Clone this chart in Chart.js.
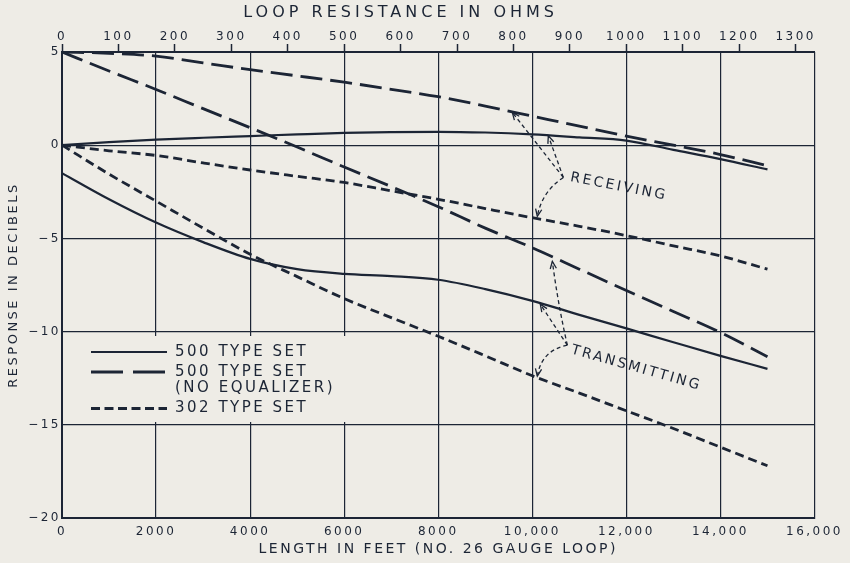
<!DOCTYPE html>
<html lang="en">
<head>
<meta charset="UTF-8">
<title>Response vs Loop Length</title>
<script src="https://cdn.jsdelivr.net/npm/chart.js@4.4.0/dist/chart.umd.min.js"></script>
<style>
html,body{margin:0;padding:0;background:#eeece6}
#wrap{width:850px;height:563px}
</style>
</head>
<body>
<div id="wrap"><canvas id="chart" width="850" height="563"></canvas></div>
<script>
/* ---------- data ---------- */
const lengthFt  = [0,1000,2000,3000,4000,5000,6000,7000,8000,9000,10000,11000,12000,13000,14000,15000];
const rx500     = [0,0.17,0.30,0.40,0.49,0.58,0.66,0.70,0.72,0.68,0.58,0.42,0.25,-0.25,-0.75,-1.30];
const rx500NoEq = [5,4.93,4.78,4.42,4.05,3.72,3.38,3.00,2.60,2.10,1.56,1.02,0.49,0.00,-0.50,-1.10];
const tx500NoEq = [5,3.98,2.99,1.96,0.94,-0.10,-1.17,-2.22,-3.30,-4.45,-5.50,-6.65,-7.80,-8.92,-10.05,-11.35];
const tx500     = [-1.5,-2.9,-4.15,-5.2,-6.1,-6.65,-6.9,-7.02,-7.22,-7.72,-8.35,-9.1,-9.83,-10.57,-11.3,-12.0];
const rx302     = [0,-0.30,-0.55,-0.95,-1.33,-1.67,-2.0,-2.45,-2.9,-3.4,-3.89,-4.35,-4.85,-5.4,-5.94,-6.65];
const tx302     = [0,-1.55,-3.0,-4.45,-5.85,-7.05,-8.23,-9.25,-10.25,-11.3,-12.37,-13.3,-14.25,-15.2,-16.2,-17.2];

const ftMax = 16000, ftStep = 2000;
const dbMin = -20, dbMax = 5, dbStep = 5;
const ohmsPerFoot = 1300 / 15600;   // no. 26 gauge loop
const ohmTicks = [0,100,200,300,400,500,600,700,800,900,1000,1100,1200,1300];

/* annotation anchors, in data units */
const recvFrom = {x:10660, y:-1.73};
const recvTips = [{x:9574,y:1.76,bend:0},{x:10340,y:0.5,bend:0},{x:10106,y:-3.82,bend:-10}];
const txFrom   = {x:10745, y:-10.73};
const txTips   = [{x:10426,y:-6.23,bend:2},{x:10170,y:-8.53,bend:0},{x:10106,y:-12.39,bend:-15}];
const recvLabel = {x:11840, y:-2.23, text:'RECEIVING', angle:11};
const txLabel   = {x:12213, y:-11.96, text:'TRANSMITTING', angle:15.8};

/* ---------- look ---------- */
const paper = '#eeece6', ink = '#1c2535';
const FONT = "'DejaVu Sans', sans-serif";
const longDash = [22,8], shortDash = [9,5];
Chart.defaults.font.family = FONT;
Chart.defaults.color = ink;

const ds = (label, ys, dash, w) => ({
  label, data: lengthFt.map((x,i)=>({x, y: ys[i]})),
  borderColor: ink, borderWidth: w, borderDash: dash,
  pointRadius: 0, fill: false, cubicInterpolationMode: 'monotone'
});

const datasets = [
  ds('500 TYPE SET', rx500, [], 2.2),
  ds('500 TYPE SET (NO EQUALIZER)', rx500NoEq, longDash, 2.8),
  ds('500 TYPE SET (NO EQUALIZER)', tx500NoEq, longDash, 2.8),
  ds('500 TYPE SET', tx500, [], 2.2),
  ds('302 TYPE SET', rx302, shortDash, 2.8),
  ds('302 TYPE SET', tx302, shortDash, 2.8)
];

/* legend rows: which dataset, sample dash, text lines */
const legendRows = [
  {ds:0, dash:[], lines:['500 TYPE SET']},
  {ds:1, dash:[32,10], lines:['500 TYPE SET','(NO EQUALIZER)']},
  {ds:4, dash:[9,4.5], lines:['302 TYPE SET']}
];

function arrow(ctx, x0, y0, x1, y1, bend){
  const dx = x1-x0, dy = y1-y0, len = Math.hypot(dx,dy);
  const cx = (x0+x1)/2 + bend*dy/len, cy = (y0+y1)/2 - bend*dx/len;
  ctx.setLineDash([4,3]);
  ctx.beginPath(); ctx.moveTo(x0,y0); ctx.quadraticCurveTo(cx,cy,x1,y1); ctx.stroke();
  const a = Math.atan2(y1-cy, x1-cx);
  ctx.setLineDash([]);
  ctx.beginPath();
  ctx.moveTo(x1-8*Math.cos(a-0.4), y1-8*Math.sin(a-0.4));
  ctx.lineTo(x1,y1);
  ctx.lineTo(x1-8*Math.cos(a+0.4), y1-8*Math.sin(a+0.4));
  ctx.stroke();
}

const notes = {
  id: 'notes',
  beforeUpdate(chart){ chart.ctx.letterSpacing = '2.5px'; },
  beforeDraw(chart){
    const c = chart.ctx;
    c.save(); c.fillStyle = paper; c.fillRect(0,0,chart.width,chart.height); c.restore();
    c.letterSpacing = '2.5px';
  },
  beforeDatasetsDraw(chart){
    const {ctx, chartArea:a} = chart;
    ctx.save(); ctx.fillStyle = paper;
    ctx.fillRect(a.left+2, 336, 294, 86);
    ctx.restore();
  },
  afterDatasetsDraw(chart){
    const {ctx, chartArea:a, scales:{x, y}} = chart;
    ctx.save();
    ctx.strokeStyle = ink; ctx.fillStyle = ink;
    ctx.letterSpacing = '2.5px';

    /* legend */
    ctx.font = '15px ' + FONT;
    ctx.textBaseline = 'middle'; ctx.textAlign = 'left';
    let rowY = 352;
    legendRows.forEach(r => {
      const d = datasets[r.ds];
      ctx.lineWidth = d.borderWidth; ctx.setLineDash(r.dash);
      ctx.beginPath(); ctx.moveTo(a.left+29, rowY); ctx.lineTo(a.left+105, rowY); ctx.stroke();
      r.lines.forEach((t,i) => ctx.fillText(t, a.left+113, rowY + i*16.5));
      rowY += 20 + (r.lines.length-1)*16.5;
    });

    /* arrows + labels */
    ctx.lineWidth = 1.3;
    [[recvFrom, recvTips],[txFrom, txTips]].forEach(([f, tips]) => {
      const x0 = x.getPixelForValue(f.x), y0 = y.getPixelForValue(f.y);
      tips.forEach(t => arrow(ctx, x0, y0, x.getPixelForValue(t.x), y.getPixelForValue(t.y), t.bend));
    });
    ctx.setLineDash([]);
    ctx.font = '14px ' + FONT; ctx.textAlign = 'center';
    [recvLabel, txLabel].forEach(l => {
      ctx.save();
      ctx.translate(x.getPixelForValue(l.x), y.getPixelForValue(l.y));
      ctx.rotate(l.angle*Math.PI/180);
      ctx.fillText(l.text, 0, 0);
      ctx.restore();
    });
    ctx.restore();
  },
  afterDraw(chart){
    const {ctx, scales:{x2}} = chart;
    ctx.save();
    ctx.fillStyle = ink; ctx.letterSpacing = '4px';
    ctx.font = '16px ' + FONT; ctx.textAlign = 'center'; ctx.textBaseline = 'middle';
    ctx.fillText('LOOP RESISTANCE IN OHMS', x2.getPixelForValue(600), 13);
    ctx.restore();
  }
};

new Chart(document.getElementById('chart'), {
  type: 'line',
  data: { datasets },
  options: {
    responsive: false, animation: false, devicePixelRatio: 1,
    layout: { padding: { right: 35 } },
    plugins: { legend: { display: false }, tooltip: { enabled: false } },
    scales: {
      x: {
        type: 'linear', position: 'bottom', min: 0, max: ftMax,
        ticks: { stepSize: ftStep, padding: 7, font: { size: 12 }, color: ink,
          maxRotation: 0, autoSkip: false,
          callback: v => v >= 10000 ? v.toLocaleString('en-US') : String(v) },
        grid: { color: ink, lineWidth: 1.2, drawTicks: false },
        border: { color: ink, width: 2 },
        title: { display: true, text: 'LENGTH IN FEET (NO. 26 GAUGE LOOP)', color: ink,
          font: { size: 14 }, padding: { top: 0, bottom: 5 } },
        afterFit: s => { s.height = 45; }
      },
      x2: {
        type: 'linear', axis: 'x', position: 'top', min: 0, max: ftMax * ohmsPerFoot,
        ticks: { padding: 0, font: { size: 12 }, color: ink,
          minRotation: 0, maxRotation: 0, autoSkip: false, callback: v => String(v) },
        afterBuildTicks: s => { s.ticks = ohmTicks.map(v => ({ value: v })); },
        grid: { drawOnChartArea: false, drawTicks: true, tickLength: 8, tickColor: ink, tickWidth: 1.5 },
        border: { color: ink, width: 2 },
        afterFit: s => { s.height = 52; }
      },
      y: {
        min: dbMin, max: dbMax,
        ticks: { stepSize: dbStep, padding: 1, font: { size: 12 }, color: ink,
          callback: v => v < 0 ? '\u2212' + (-v) : String(v) },
        grid: { color: ink, lineWidth: 1.2, drawTicks: false },
        border: { color: ink, width: 2 },
        title: { display: true, text: 'RESPONSE IN DECIBELS', color: ink,
          font: { size: 13 }, padding: { top: 6, bottom: 0 } },
        afterFit: s => { s.width = 62; }
      }
    }
  },
  plugins: [notes]
});
</script>
</body>
</html>
